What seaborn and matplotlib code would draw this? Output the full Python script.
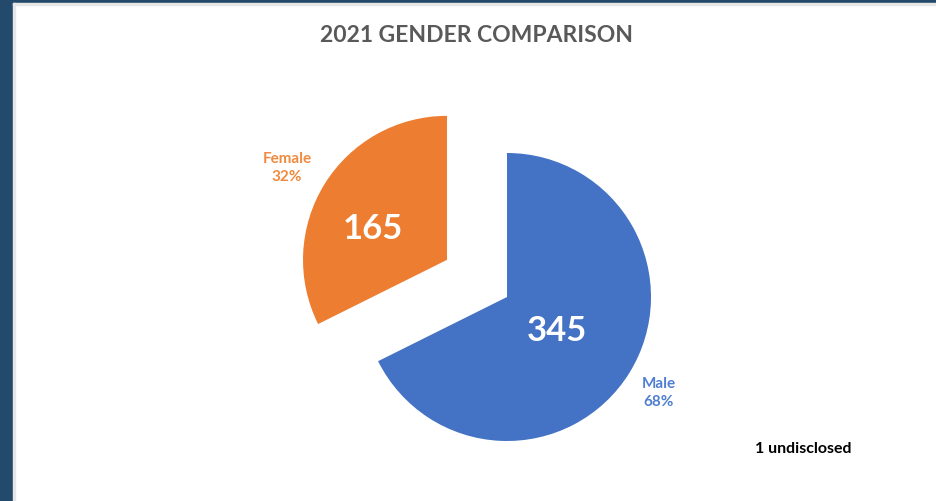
import matplotlib
matplotlib.use("Agg")
import matplotlib.pyplot as plt
import matplotlib.patches as mpatches
import seaborn as sns

sns.set_theme(style="white")
plt.rcParams['font.family'] = ['Lato', 'DejaVu Sans']

# Data
categories = ["Male", "Female"]
counts = [345, 165]
percents = ["68%", "32%"]
colors = ["#4472C4", "#ED7D31"]
label_colors = ["#4F7FD0", "#F08A3E"]
title = "2021 GENDER COMPARISON"
note = "1 undisclosed"

W, H = 937, 501
fig = plt.figure(figsize=(W / 100, H / 100), dpi=100)
fig.patch.set_facecolor("white")

# border strips
fig.add_artist(mpatches.Rectangle((0, 0), 13 / W, 1, transform=fig.transFigure,
                                  color="#234A6B", zorder=0))
fig.add_artist(mpatches.Rectangle((0, 1 - 3 / H), 1, 3 / H, transform=fig.transFigure,
                                  color="#234A6B", zorder=0))
fig.add_artist(mpatches.Rectangle((13 / W, 1 - 5 / H), 1, 2 / H, transform=fig.transFigure,
                                  color="#E6E6E6", zorder=0))
fig.add_artist(mpatches.Rectangle((13 / W, 0), 2 / W, 1 - 3 / H, transform=fig.transFigure,
                                  color="#E6E6E6", zorder=0))

ax = fig.add_axes([0, 0, 1, 1])
ax.set_facecolor("none")
R = 144.0
cx, cy = 507.0, H - 297.0

explode = [0.0, 0.49]
wedges, _ = ax.pie(counts, colors=colors, startangle=90, counterclock=False,
                   explode=explode, radius=1.0, center=(0, 0),
                   wedgeprops=dict(linewidth=0))

ax.set_aspect("auto")
ax.set_xlim(-cx / R, (W - cx) / R)
ax.set_ylim(-cy / R, (H - cy) / R)
ax.axis("off")

def px(x, y):
    return ((x - cx) / R, (H - y - cy) / R)

# count labels
ax.text(*px(373, 229), str(counts[1]), color="white", fontsize=25, fontweight="bold",
        ha="center", va="center")
ax.text(*px(557, 331), str(counts[0]), color="white", fontsize=25, fontweight="bold",
        ha="center", va="center")

# category labels
ax.text(*px(287, 168), f"{categories[1]}\n{percents[1]}", color=label_colors[1], fontsize=11,
        fontweight="bold", ha="center", va="center", linespacing=1.3)
ax.text(*px(659, 393), f"{categories[0]}\n{percents[0]}", color=label_colors[0], fontsize=11,
        fontweight="bold", ha="center", va="center", linespacing=1.3)

ax.text(*px(803, 449), note, color="black", fontsize=11.5, fontweight="bold",
        ha="center", va="center")

fig.text(477 / W, 1 - 36 / H, title, color="#595959", fontsize=16.5, fontweight="bold",
         ha="center", va="center")

fig.savefig("out.png", dpi=100)
